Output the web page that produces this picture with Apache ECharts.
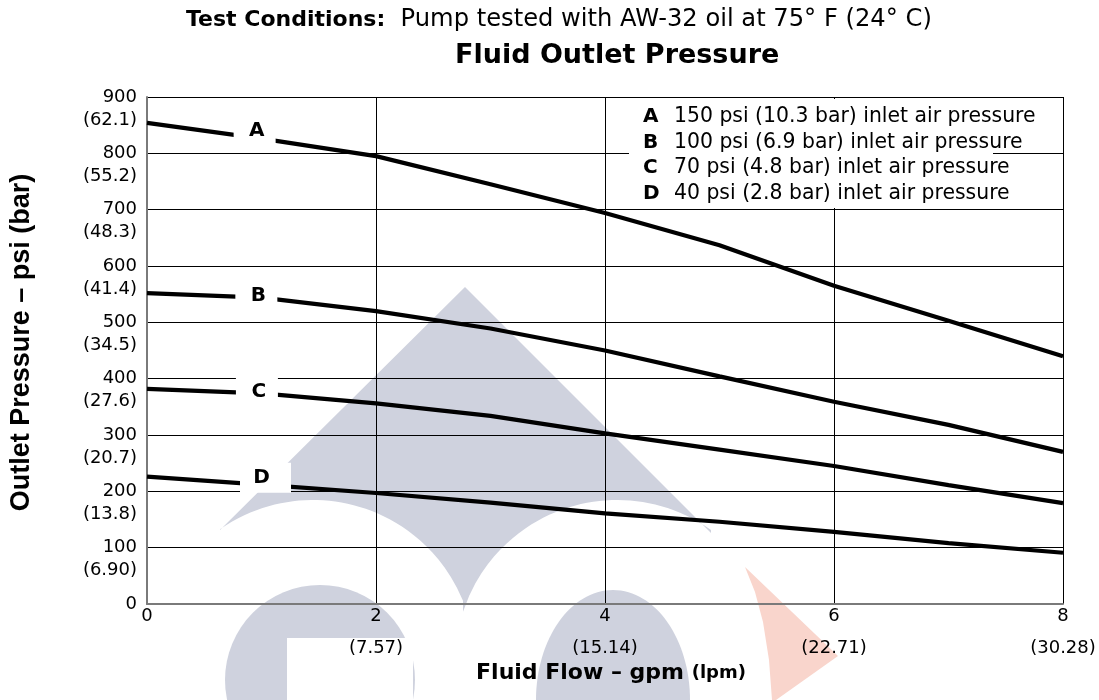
<!DOCTYPE html>
<html>
<head>
<meta charset="utf-8">
<script src="https://cdn.jsdelivr.net/npm/echarts@6/dist/echarts.min.js"></script>
<style>html,body{margin:0;padding:0;background:#fff;}#c{width:1099px;height:700px;}</style>
</head>
<body>
<div id="c"></div>
<script>
// ---- data ----
const flowGpm = [0, 1, 2, 3, 4, 5, 6, 7, 8];
const curveA = [854, 826, 795, 745, 694, 637, 565, 503, 440];
const curveB = [552, 544, 520, 489, 450, 404, 359, 318, 270];
const curveC = [382, 374, 356, 334, 303, 274, 245, 211, 179];
const curveD = [226, 212, 197, 180, 161, 146, 128, 108, 91];
const curveNames = ['A', 'B', 'C', 'D'];
const curveLabelX = [0.94, 0.955, 0.96, 1.035];
const curveLabelY = [840, 547, 376, 224];
const legendTexts = [
  '150 psi (10.3 bar) inlet air pressure',
  '100 psi (6.9 bar) inlet air pressure',
  '70 psi (4.8 bar) inlet air pressure',
  '40 psi (2.8 bar) inlet air pressure'
];
const xLpmLabels = { 2: '(7.57)', 4: '(15.14)', 6: '(22.71)', 8: '(30.28)' };
const yBarLabels = { 0: '', 100: '(6.90)', 200: '(13.8)', 300: '(20.7)', 400: '(27.6)', 500: '(34.5)', 600: '(41.4)', 700: '(48.3)', 800: '(55.2)', 900: '(62.1)' };
const subtitleBold = 'Test Conditions:';
const subtitleText = 'Pump tested with AW-32 oil at 75\u00b0 F (24\u00b0 C)';
const chartTitle = 'Fluid Outlet Pressure';
const xName = 'Fluid Flow \u2013 gpm';
const xNameUnit = '(lpm)';
const yName = 'Outlet Pressure \u2013 psi (bar)';

const FONT = 'DejaVu Sans';
const curves = [curveA, curveB, curveC, curveD];

const chart = echarts.init(document.getElementById('c'), null, { renderer: 'canvas' });

const series = curves.map((vals, i) => ({
  name: curveNames[i],
  type: 'line',
  data: flowGpm.map((x, j) => [x, vals[j]]),
  symbol: 'none',
  smooth: false,
  lineStyle: { color: '#000', width: 4.2 },
  z: 3,
  markPoint: {
    symbol: 'rect',
    symbolSize: i === 3 ? [51, 30] : [42, 30],
    itemStyle: { color: '#fff' },
    label: {
      show: true, position: 'inside', color: '#000', fontWeight: 'bold',
      fontSize: 20, fontFamily: FONT, offset: i === 3 ? [-4, 0] : [2, 0],
      formatter: curveNames[i]
    },
    data: [{ coord: [curveLabelX[i], curveLabelY[i]] }]
  }
}));

// ---- watermark (decorative logo) ----
const wmGray = '#cfd2de';
function arcPts(cx, cy, r, x0, x1, n) {
  const pts = [];
  for (let k = 0; k <= n; k++) {
    const x = x0 + (x1 - x0) * k / n;
    pts.push([x, cy - Math.sqrt(Math.max(0, r * r - (x - cx) * (x - cx)))]);
  }
  return pts;
}
const triPts = [[465, 287], [220, 530]]
  .concat(arcPts(313, 662, 162, 220, 463, 40))
  .concat(arcPts(617, 662, 162, 463, 711, 40))
  .concat([[711, 533]]);

const graphic = [
  { type: 'polygon', z: -10, shape: { points: triPts }, style: { fill: wmGray } },
  { type: 'circle', z: -8, shape: { cx: 320, cy: 680, r: 95 }, style: { fill: wmGray } },
  { type: 'rect', z: -7, shape: { x: 287, y: 638, width: 126, height: 70 }, style: { fill: '#fff' } },
  { type: 'ellipse', z: -8, shape: { cx: 613, cy: 700, rx: 77, ry: 110 }, style: { fill: wmGray } },
  { type: 'polygon', z: -8, shape: { points: [[745, 567], [838, 656], [776, 700], [772, 700], [769, 660], [763, 622], [755, 592]] }, style: { fill: '#f9d5cc' } },
  // legend box
  { type: 'rect', z: 50, shape: { x: 629, y: 99, width: 364, height: 109 }, style: { fill: '#fff' } }
];
legendTexts.forEach((t, i) => {
  graphic.push({
    type: 'text', z: 51, x: 643, y: 117 + i * 25.6,
    style: {
      text: '{b|' + curveNames[i] + '}{n|' + t + '}',
      verticalAlign: 'middle',
      rich: {
        b: { fontFamily: FONT, fontWeight: 'bold', fontSize: 20, fill: '#000', width: 31 },
        n: { fontFamily: FONT, fontWeight: 'normal', fontSize: 20.4, fill: '#000' }
      }
    }
  });
});

const option = {
  backgroundColor: '#fff',
  animation: false,
  title: [
    {
      text: '{b|' + subtitleBold + '}{n|  ' + subtitleText + '}',
      left: 186, top: 8, padding: 0,
      textStyle: {
        fontWeight: 'normal',
        rich: {
          b: { fontFamily: FONT, fontWeight: 'bold', fontSize: 22, color: '#000' },
          n: { fontFamily: FONT, fontWeight: 'normal', fontSize: 24.2, color: '#000' }
        }
      }
    },
    {
      text: chartTitle, left: 455, top: 42, padding: 0,
      textStyle: { fontFamily: FONT, fontWeight: 'bold', fontSize: 27, color: '#000' }
    }
  ],
  grid: { left: 147, right: 36, top: 97, bottom: 96, containLabel: false },
  xAxis: {
    type: 'value', min: 0, max: 8, interval: 2,
    name: xName + ' {s|' + xNameUnit + '}',
    nameLocation: 'middle', nameGap: 55,
    nameTextStyle: {
      fontFamily: FONT, fontWeight: 'bold', fontSize: 22, color: '#000', padding: [0, 0, 0, 12],
      rich: { s: { fontFamily: FONT, fontWeight: 'bold', fontSize: 18, color: '#000' } }
    },
    axisLine: { show: true, lineStyle: { color: '#7a7a7a', width: 2 } },
    axisTick: { show: false },
    splitLine: { show: true, lineStyle: { color: '#000', width: 1 } },
    axisLabel: {
      margin: 2,
      formatter: v => (xLpmLabels[v] ? '{a|' + v + '}\n{b|' + xLpmLabels[v] + '}' : '{a|' + v + '}'),
      rich: {
        a: { fontFamily: FONT, fontSize: 18, color: '#000', lineHeight: 20 },
        b: { fontFamily: FONT, fontSize: 18, color: '#000', lineHeight: 44 }
      }
    }
  },
  yAxis: {
    type: 'value', min: 0, max: 900, interval: 100,
    name: yName, nameLocation: 'middle', nameGap: 112,
    nameTextStyle: { fontFamily: 'Liberation Sans', fontWeight: 'bold', fontSize: 27, color: '#000', padding: [0, 0, 0, 16] },
    axisLine: { show: true, lineStyle: { color: '#7a7a7a', width: 2 } },
    axisTick: { show: false },
    splitLine: { show: true, lineStyle: { color: '#000', width: 1 } },
    axisLabel: {
      margin: 10, padding: [24, 0, 0, 0],
      formatter: v => '{a|' + v + '}\n{b|' + (yBarLabels[v] || ' ') + '}',
      rich: {
        a: { fontFamily: FONT, fontSize: 18, color: '#000', lineHeight: 22, align: 'right' },
        b: { fontFamily: FONT, fontSize: 18, color: '#000', lineHeight: 24, align: 'right' }
      }
    }
  },
  graphic: graphic,
  series: series
};
chart.setOption(option);
</script>
</body>
</html>
